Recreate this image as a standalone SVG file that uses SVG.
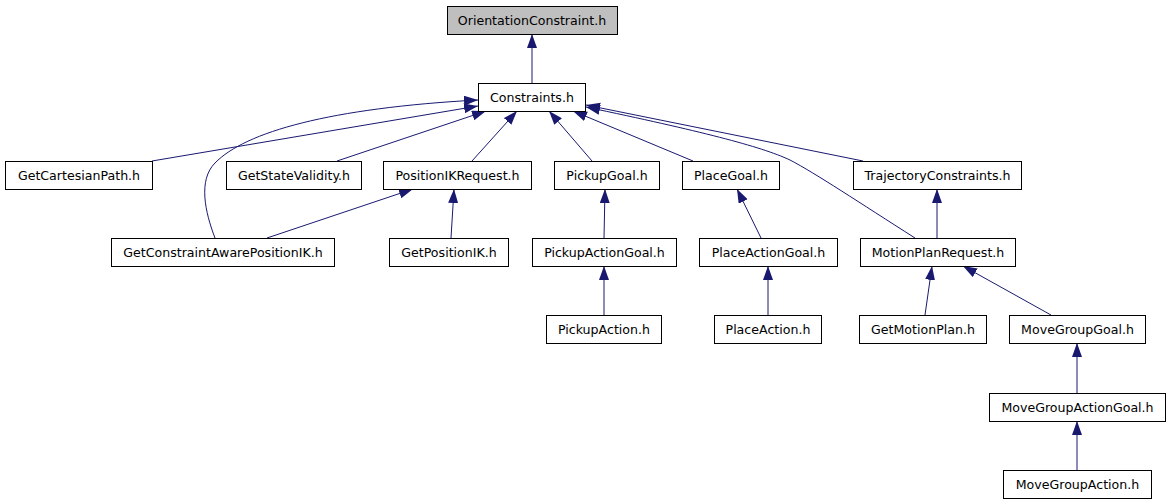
<svg xmlns="http://www.w3.org/2000/svg" width="1171" height="504" viewBox="0 0 1171 504">
<style>
.n rect{fill:#fff;stroke:#000;stroke-width:1}
.n.root rect{fill:#bfbfbf}
.n text{font-family:"DejaVu Sans","Liberation Sans",sans-serif;font-size:12.6px;fill:#000;text-anchor:middle}
.e path{fill:none;stroke:#191970;stroke-width:1;marker-end:url(#ah)}
</style>
<defs>
<marker id="ah" markerUnits="userSpaceOnUse" markerWidth="15" markerHeight="11" refX="14" refY="5" orient="auto">
<path d="M0,0 L14,5 L0,10 z" fill="#191970" stroke="none"/>
</marker>
</defs>
<rect width="1171" height="504" fill="#fff"/>
<g id="edges" class="e">
<path d="M532,83 V34"/>
<path d="M215,238 C205,212 198,180 215,163 C245,132 330,108 478,100"/>
<path d="M152,161 L478,106"/>
<path d="M337,161 L486,111"/>
<path d="M472,161 L517,111"/>
<path d="M592,161 L549,111"/>
<path d="M693,161 L573,111"/>
<path d="M863,161 L586,105"/>
<path d="M915,238 C860,203 815,173 790,160 C760,146 700,131 586,107"/>
<path d="M267,238 L413,189"/>
<path d="M451,238 L454,189"/>
<path d="M604,238 L605,189"/>
<path d="M761,238 L737,189"/>
<path d="M604,315 V266"/>
<path d="M768,315 V266"/>
<path d="M937,238 V189"/>
<path d="M925,315 L932,266"/>
<path d="M1051,315 L963,266"/>
<path d="M1077,393 V343"/>
<path d="M1077,470 V421"/>
</g>
<g id="OrientationConstraint" class="n root"><rect x="447.5" y="6.5" width="170" height="28"/><text x="532" y="24.5">OrientationConstraint.h</text></g>
<g id="Constraints" class="n"><rect x="478.5" y="83.5" width="107" height="28"/><text x="532" y="101.5">Constraints.h</text></g>
<g id="GetCartesianPath" class="n"><rect x="5.5" y="161.5" width="147" height="28"/><text x="79" y="179.5">GetCartesianPath.h</text></g>
<g id="GetStateValidity" class="n"><rect x="226.5" y="161.5" width="135" height="28"/><text x="294" y="179.5">GetStateValidity.h</text></g>
<g id="PositionIKRequest" class="n"><rect x="383.5" y="161.5" width="148" height="28"/><text x="457.5" y="179.5">PositionIKRequest.h</text></g>
<g id="PickupGoal" class="n"><rect x="554.5" y="161.5" width="105" height="28"/><text x="607" y="179.5">PickupGoal.h</text></g>
<g id="PlaceGoal" class="n"><rect x="682.5" y="161.5" width="97" height="28"/><text x="731" y="179.5">PlaceGoal.h</text></g>
<g id="TrajectoryConstraints" class="n"><rect x="853.5" y="161.5" width="168" height="28"/><text x="937.5" y="179.5">TrajectoryConstraints.h</text></g>
<g id="GetConstraintAwarePositionIK" class="n"><rect x="111.5" y="238.5" width="223" height="28"/><text x="223" y="256.5">GetConstraintAwarePositionIK.h</text></g>
<g id="GetPositionIK" class="n"><rect x="389.5" y="238.5" width="119" height="28"/><text x="449" y="256.5">GetPositionIK.h</text></g>
<g id="PickupActionGoal" class="n"><rect x="532.5" y="238.5" width="144" height="28"/><text x="604.5" y="256.5">PickupActionGoal.h</text></g>
<g id="PlaceActionGoal" class="n"><rect x="699.5" y="238.5" width="138" height="28"/><text x="768.5" y="256.5">PlaceActionGoal.h</text></g>
<g id="MotionPlanRequest" class="n"><rect x="860.5" y="238.5" width="155" height="28"/><text x="938" y="256.5">MotionPlanRequest.h</text></g>
<g id="PickupAction" class="n"><rect x="546.5" y="315.5" width="115" height="28"/><text x="604" y="333.5">PickupAction.h</text></g>
<g id="PlaceAction" class="n"><rect x="714.5" y="315.5" width="107" height="28"/><text x="768" y="333.5">PlaceAction.h</text></g>
<g id="GetMotionPlan" class="n"><rect x="859.5" y="315.5" width="127" height="28"/><text x="923" y="333.5">GetMotionPlan.h</text></g>
<g id="MoveGroupGoal" class="n"><rect x="1009.5" y="315.5" width="136" height="28"/><text x="1077.5" y="333.5">MoveGroupGoal.h</text></g>
<g id="MoveGroupActionGoal" class="n"><rect x="989.5" y="393.5" width="176" height="28"/><text x="1077.5" y="411.5">MoveGroupActionGoal.h</text></g>
<g id="MoveGroupAction" class="n"><rect x="1003.5" y="470.5" width="148" height="28"/><text x="1077.5" y="488.5">MoveGroupAction.h</text></g>
</svg>
